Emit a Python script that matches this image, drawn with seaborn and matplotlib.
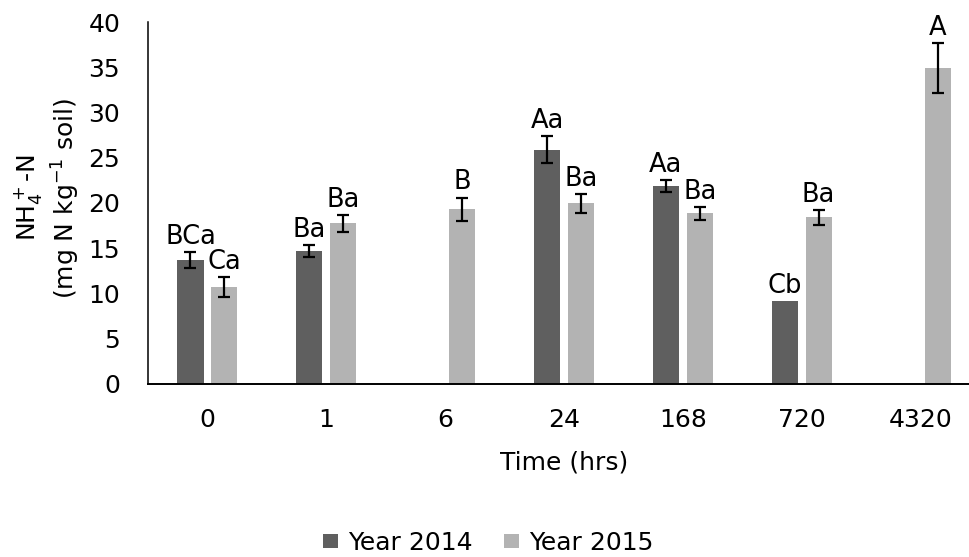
import numpy as np
import pandas as pd
import matplotlib
matplotlib.use("Agg")
from matplotlib import pyplot as plt
import seaborn as sns

# data
times = ["0", "1", "6", "24", "168", "720", "4320"]
years = ["Year 2014", "Year 2015"]
nh4_2014 = [13.7, 14.7, np.nan, 25.9, 21.9, 9.2, np.nan]
nh4_2015 = [10.7, 17.75, 19.3, 19.95, 18.85, 18.4, 34.9]
err_2014 = [0.9, 0.65, np.nan, 1.5, 0.63, 0.0, np.nan]
err_2015 = [1.1, 0.9, 1.3, 1.07, 0.73, 0.85, 2.8]
lab_2014 = ["BCa", "Ba", "", "Aa", "Aa", "Cb", ""]
lab_2015 = ["Ca", "Ba", "B", "Ba", "Ba", "Ba", "A"]

dark, light = "#5f5f5f", "#b3b3b3"

sns.set_style("white")
plt.rcParams["font.family"] = ["DejaVu Sans"]
plt.rcParams["mathtext.default"] = "regular"
plt.rcParams["text.color"] = "black"
plt.rcParams["axes.labelcolor"] = "black"
plt.rcParams["xtick.color"] = "black"
plt.rcParams["ytick.color"] = "black"

rows = []
for t, a, b in zip(times, nh4_2014, nh4_2015):
    rows.append([t, years[0], a])
    rows.append([t, years[1], b])
df = pd.DataFrame(rows, columns=["Time", "Year", "NH4"])

fig = plt.figure(figsize=(9.69, 5.57), dpi=100)
ax = fig.add_axes([0.1527, 0.3106, 0.8587, 0.6499])

sns.barplot(ax=ax, data=df, x="Time", y="NH4", hue="Year", order=times,
            hue_order=years, palette=[dark, light], width=0.57, gap=0.23,
            errorbar=None, saturation=1, linewidth=0)

errs = {years[0]: err_2014, years[1]: err_2015}
labs = {years[0]: lab_2014, years[1]: lab_2015}
for cont, yr in zip(ax.containers, years):
    for bar in cont:
        xc = bar.get_x() + bar.get_width() / 2
        h = bar.get_height()
        if np.isnan(h):
            continue
        i = int(round(xc))
        e = errs[yr][i]
        if e > 0:
            ax.errorbar(xc, h, yerr=e, fmt="none", ecolor="black",
                        elinewidth=1.6, capsize=4.3, capthick=1.6)
        ax.annotate(labs[yr][i], (xc, h + e), xytext=(0, 1.5),
                    textcoords="offset points", ha="center", va="bottom",
                    fontsize=18.5)

ax.set_xlim(-0.5, len(times) - 0.5)
ax.set_ylim(0, 40)
ax.set_yticks(range(0, 41, 5))
ax.tick_params(axis="y", length=0, pad=20, labelsize=18)
ax.tick_params(axis="x", length=0, pad=17, labelsize=18)

ax.set_xlabel("Time (hrs)", fontsize=18, va="center")
ax.xaxis.set_label_coords(0.5, -0.218)
ax.set_ylabel("NH$_4^+$-N\n(mg N kg$^{-1}$ soil)", fontsize=18,
              va="center", linespacing=1.25)
ax.yaxis.set_label_coords(-0.121, 0.514)

sns.despine(ax=ax)
ax.spines["left"].set_color("black")
ax.spines["left"].set_linewidth(1.1)
ax.spines["bottom"].set_color("black")
ax.spines["bottom"].set_linewidth(1.4)

sns.move_legend(ax, "center", bbox_to_anchor=(0.409, -0.439), ncol=2,
                frameon=False, title=None, fontsize=18, handlelength=0.6,
                handleheight=0.52, handletextpad=0.4, columnspacing=1.24)

fig.savefig("out.png", dpi=100)
